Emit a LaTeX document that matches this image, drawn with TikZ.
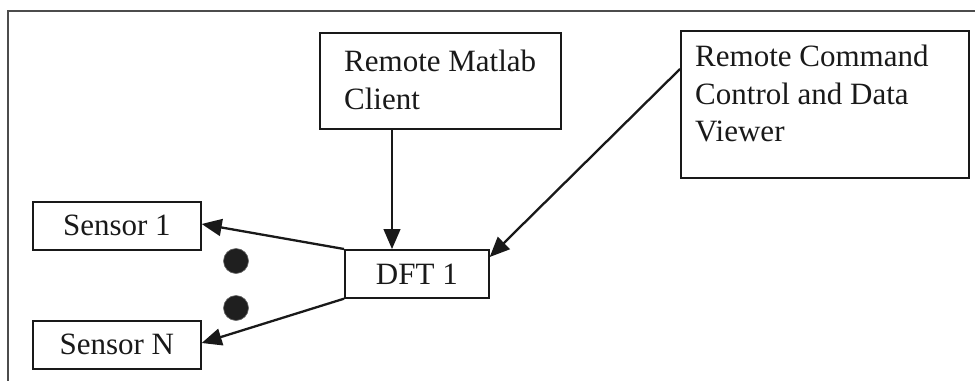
\documentclass[tikz,border=0pt]{standalone}
\usepackage{fontspec}
\setmainfont{Liberation Serif}
\usetikzlibrary{arrows.meta}
\begin{document}
\begin{tikzpicture}[x=1pt,y=-1pt,
  box/.style={draw=black!90, line width=1.7pt, inner sep=0pt},
  lbl/.style={inner sep=0pt, align=left, text=black!90, font=\fontsize{31}{37.5}\selectfont},
  conn/.style={draw=black!90, line width=2.3pt, -{Triangle[length=20pt,width=17pt]}},
  thinconn/.style={draw=black!90, line width=1.3pt, -{Triangle[length=20pt,width=17pt]}},
  dotc/.style={circle, fill=black!88, draw=black!60, line width=0.6pt, minimum size=25pt, inner sep=0pt},
  frame/.style={draw=black!70, line width=1.4pt}]
\useasboundingbox (0,0) rectangle (975,381);
% frame
\coordinate (fa) at (975,11);
\coordinate (fb) at (8,11);
\coordinate (fc) at (8,381);
\draw[frame] (fa) -- (fb) -- (fc);
% boxes
\node[box, anchor=north west, minimum width=241pt, minimum height=96pt] (ml) at (319,32) {};
\node[lbl, anchor=north west] (mlt) at (344,50) {Remote Matlab\\Client};
\node[box, anchor=north west, minimum width=288pt, minimum height=147pt] (rc) at (680,30) {};
\node[lbl, anchor=north west] (rct) at (695,45) {Remote Command\\Control and Data\\Viewer};
\node[box, anchor=north west, minimum width=168pt, minimum height=48pt, font=\fontsize{31}{37.5}\selectfont, text=black!90] (s1) at (32,201) {Sensor 1};
\node[box, anchor=north west, minimum width=168pt, minimum height=48pt, font=\fontsize{31}{37.5}\selectfont, text=black!90] (sn) at (32,320) {Sensor N};
\node[box, anchor=north west, minimum width=144pt, minimum height=48pt, font=\fontsize{31}{37.5}\selectfont, text=black!90] (dft) at (344,249) {DFT 1};
% dots
\node[dotc] (d1) at (236,261) {};
\node[dotc] (d2) at (236,308) {};
% connectors
\draw[thinconn] (ml.south -| 392,0) -- (dft.north -| 392,0);
\draw[conn] ([yshift=-39pt]rc.north west) -- ([yshift=-8pt]dft.north east);
\draw[conn] (dft.north west) -- ([yshift=-23pt]s1.north east);
\draw[conn] (dft.south west) -- ([yshift=-23pt]sn.north east);
\end{tikzpicture}
\end{document}
